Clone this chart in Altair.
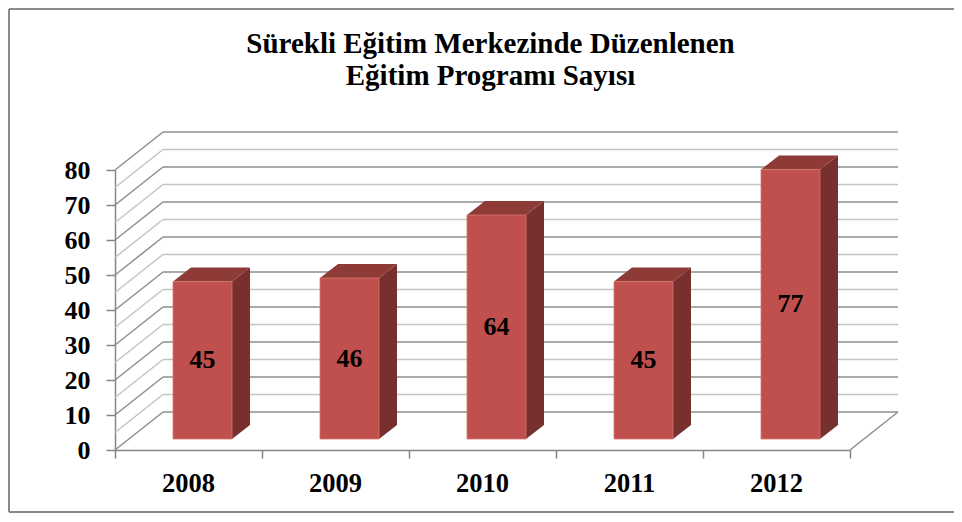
import altair as alt
import pandas as pd

# ---- data ----
years = ["2008", "2009", "2010", "2011", "2012"]
counts = [45, 46, 64, 45, 77]
y_tick_values = [0, 10, 20, 30, 40, 50, 60, 70, 80]
grid_values = list(range(0, 81, 5))
title_lines = ["Sürekli Eğitim Merkezinde Düzenlenen", "Eğitim Programı Sayısı"]

# ---- layout (pixels -> data units) ----
W, H = 735, 280
NCAT, YMAX = 5, 80
PX_X = W / NCAT
PX_Y = H / YMAX
BACK_DX, BACK_DY = 48 / PX_X, 38 / PX_Y     # back wall depth
BAR_DX, BAR_DY = 14 / PX_X, 11 / PX_Y       # bar front plane offset
DEP_DX, DEP_DY = 18 / PX_X, 14 / PX_Y       # bar depth
BAR_W = 59 / PX_X

FONT = "Liberation Serif"
FRONT, SIDE, TOP = "#C0504D", "#77302D", "#8E3B38"
GRID_MAJOR, GRID_MINOR = "#8E8E8E", "#C4C4C4"
BORDER = "#8A8A8A"

rows, side_rows, top_rows = [], [], []
for i, (yr, v) in enumerate(zip(years, counts)):
    xl = i + 0.5 + BAR_DX - BAR_W / 2
    xr = xl + BAR_W
    yb, yt = BAR_DY, v + BAR_DY
    rows.append(dict(year=yr, value=v, xl=xl, xr=xr, yb=yb, yt=yt,
                     xc=(xl + xr) / 2, ym=(yb + yt) / 2, xcat=i + 0.5))
    side_rows += [dict(year=yr, x=xr, top=yt, bottom=yb),
                  dict(year=yr, x=xr + DEP_DX, top=yt + DEP_DY, bottom=yb + DEP_DY)]
    top_rows += [dict(year=yr, y=yt, x1=xl, x2=xr),
                 dict(year=yr, y=yt + DEP_DY, x1=xl + DEP_DX, x2=xr + DEP_DX)]
bars = pd.DataFrame(rows)
sides = pd.DataFrame(side_rows)
tops = pd.DataFrame(top_rows)

grid_rows = []
for v in grid_values:
    kind = "major" if v % 10 == 0 else "minor"
    grid_rows.append(dict(x=BACK_DX, x2=NCAT + BACK_DX, y=v + BACK_DY, y2=v + BACK_DY, kind=kind))
    grid_rows.append(dict(x=0, x2=BACK_DX, y=v, y2=v + BACK_DY, kind=kind))
grid_rows.append(dict(x=NCAT, x2=NCAT + BACK_DX, y=0, y2=BACK_DY, kind="major"))
grid = pd.DataFrame(grid_rows)

xs = alt.Scale(domain=[0, NCAT], nice=False, zero=False)
ys = alt.Scale(domain=[0, YMAX], nice=False, zero=False)

x_axis = alt.Axis(values=[0, 1, 2, 3, 4, 5], labels=False, tickSize=8, title=None,
                  grid=False, domainColor="#868686", tickColor="#868686",
                  domainWidth=1.5, tickWidth=1.5)
y_axis = alt.Axis(values=y_tick_values, tickSize=9, labelPadding=16, title=None, grid=False,
                  labelOverlap=False, labelFont=FONT, labelFontSize=26,
                  labelFontWeight="bold", labelColor="black",
                  domainColor="#868686", tickColor="#868686", domainWidth=1.5, tickWidth=1.5)


def X(field):
    return alt.X(field, scale=xs, axis=x_axis)


def Y(field):
    return alt.Y(field, scale=ys, axis=y_axis)


grid_layer = alt.Chart(grid).mark_rule(strokeWidth=1.5).encode(
    x=X("x:Q"), x2="x2:Q", y=Y("y:Q"), y2="y2:Q",
    color=alt.Color("kind:N", scale=alt.Scale(domain=["major", "minor"],
                                              range=[GRID_MAJOR, GRID_MINOR]), legend=None),
)

front_layer = alt.Chart(bars).mark_rect(color=FRONT, stroke="#D8746F", strokeWidth=0.8).encode(
    x=X("xl:Q"), x2="xr:Q", y=Y("yb:Q"), y2="yt:Q",
)

side_layer = alt.Chart(sides).mark_area(color=SIDE, orient="vertical", opacity=1).encode(
    x=X("x:Q"), y=Y("top:Q"), y2="bottom:Q", detail="year:N",
)

top_layer = alt.Chart(tops).mark_area(color=TOP, orient="horizontal", opacity=1).encode(
    y=Y("y:Q"), x=X("x1:Q"), x2="x2:Q", detail="year:N",
)

value_labels = alt.Chart(bars).mark_text(font=FONT, fontSize=26, fontWeight="bold",
                                         color="black", baseline="middle").encode(
    x=X("xc:Q"), y=Y("ym:Q"), text="value:Q",
)

year_labels = alt.Chart(bars).mark_text(font=FONT, fontSize=26.5, fontWeight="bold",
                                        color="black", baseline="alphabetic", dy=42).encode(
    x=X("xcat:Q"), y=alt.Y(datum=0, scale=ys, axis=y_axis), text="year:N",
)

# chart frame (top, left and bottom edges; the right edge lies outside the picture)
frame_top = alt.Chart(bars).mark_rule(color=BORDER, strokeWidth=2).encode(
    x=alt.value(-106), x2=alt.value(900), y=alt.value(-161))
frame_left = alt.Chart(bars).mark_rule(color=BORDER, strokeWidth=2).encode(
    x=alt.value(-106), y=alt.value(-161), y2=alt.value(342))
frame_bottom = alt.Chart(bars).mark_rule(color=BORDER, strokeWidth=2).encode(
    x=alt.value(-106), x2=alt.value(900), y=alt.value(342))

chart = alt.layer(
    grid_layer, side_layer, top_layer, front_layer, value_labels, year_labels,
    frame_top, frame_left, frame_bottom,
).properties(
    width=W, height=H,
    title=alt.Title(title_lines, font=FONT, fontSize=29, fontWeight="bold", color="black",
                    anchor="middle", lineHeight=32, dx=8, dy=93, offset=10),
    autosize=alt.AutoSizeParams(type="none"),
    padding={"left": 107, "top": 162, "right": 104, "bottom": 64},
    background="white",
).configure_view(stroke=None)

chart.save("out.html", embed_options={"renderer": "svg", "actions": False})
